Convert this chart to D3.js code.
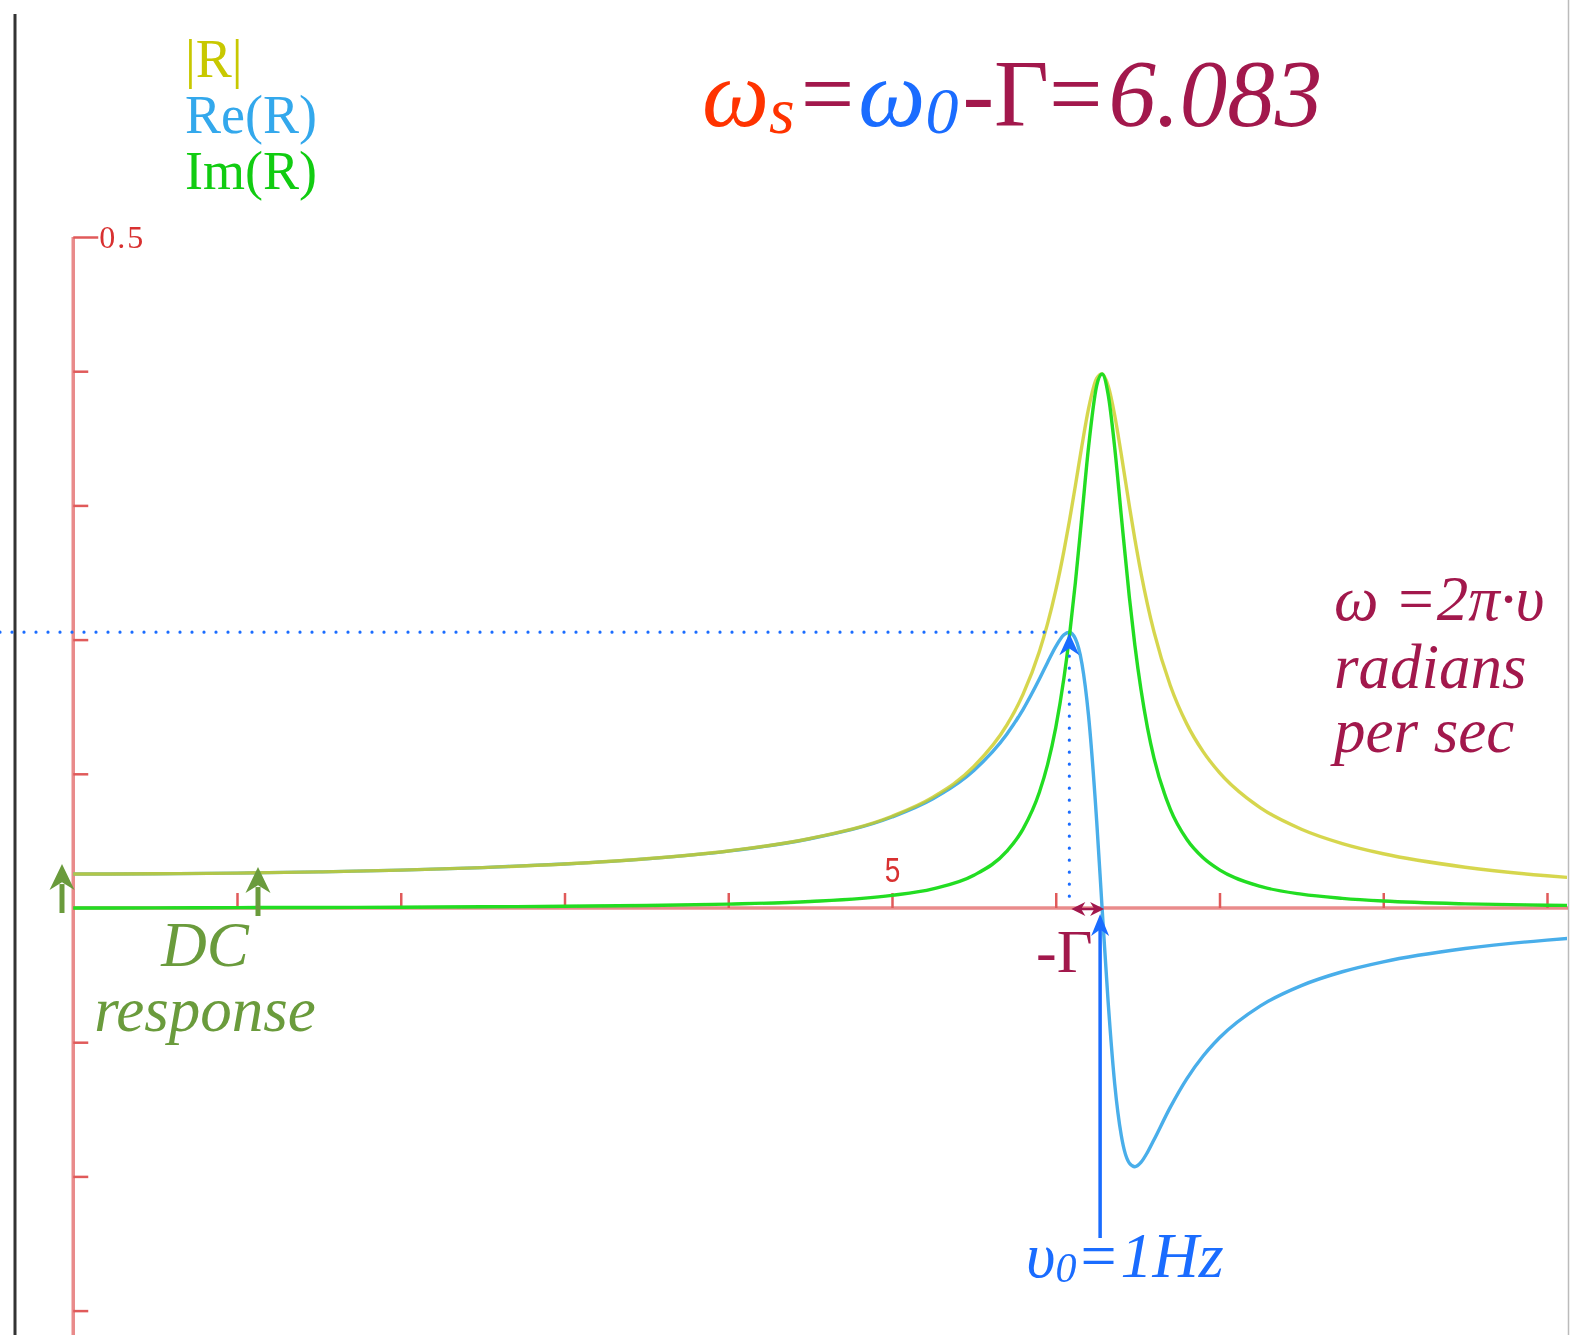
<!DOCTYPE html>
<html>
<head>
<meta charset="utf-8">
<script src="https://cdn.jsdelivr.net/npm/d3@7"></script>
<style>
  html, body { margin: 0; padding: 0; background: #fff; }
  svg { display: block; }
</style>
</head>
<body>
<svg id="chart" width="1572" height="1335"></svg>
<script>
// Angular frequency samples (rad/s)
const omega = [0, 0.5, 1, 1.5, 2, 2.5, 3, 3.5, 4, 4.5,
  5, 5.25, 5.5, 5.7, 5.8, 5.9, 5.95, 6.0, 6.05, 6.083,
  6.12, 6.16, 6.2, 6.25, 6.283, 6.32, 6.36, 6.4, 6.45, 6.483,
  6.52, 6.56, 6.6, 6.7, 6.8, 6.9, 7.0, 7.25, 7.5, 7.75,
  8, 8.5, 9, 9.2];

// Magnitude |R|
const absR = [0.0253, 0.0255, 0.0260, 0.0269, 0.0282, 0.0301, 0.0328, 0.0367, 0.0425, 0.0518,
  0.0684, 0.0826, 0.1054, 0.1360, 0.1592, 0.1912, 0.2119, 0.2366, 0.2661, 0.2881,
  0.3148, 0.3446, 0.3719, 0.3946, 0.3979, 0.3891, 0.3672, 0.3381, 0.2992, 0.2749,
  0.2500, 0.2263, 0.2057, 0.1656, 0.1372, 0.1165, 0.1008, 0.0746, 0.0587, 0.0480,
  0.0404, 0.0304, 0.0240, 0.0221];

// Real part Re(R)
const reR = [0.0253, 0.0255, 0.0260, 0.0269, 0.0282, 0.0301, 0.0328, 0.0366, 0.0424, 0.0516,
  0.0678, 0.0814, 0.1025, 0.1293, 0.1479, 0.1706, 0.1830, 0.1948, 0.2036, 0.2055,
  0.2006, 0.1820, 0.1436, 0.0648, 0.0000, -0.0702, -0.1310, -0.1694, -0.1902, -0.1928,
  -0.1896, -0.1821, -0.1727, -0.1484, -0.1273, -0.1103, -0.0967, -0.0729, -0.0578, -0.0475,
  -0.0401, -0.0302, -0.0239, -0.0220];

// Imaginary part Im(R)
const imR = [0.0000, 0.0001, 0.0003, 0.0004, 0.0006, 0.0009, 0.0013, 0.0019, 0.0029, 0.0048,
  0.0094, 0.0143, 0.0244, 0.0422, 0.0588, 0.0862, 0.1068, 0.1344, 0.1713, 0.2019,
  0.2426, 0.2926, 0.3431, 0.3892, 0.3979, 0.3827, 0.3431, 0.2926, 0.2310, 0.1960,
  0.1631, 0.1344, 0.1117, 0.0735, 0.0512, 0.0374, 0.0284, 0.0161, 0.0103, 0.0072,
  0.0052, 0.0031, 0.0021, 0.0018];

// Axis ticks
const xTicks = [1, 2, 3, 4, 5, 6, 7, 8, 9];
const xTickLabels = ["", "", "", "", "5", "", "", "", ""];
const yTicks = [-0.3, -0.2, -0.1, 0.1, 0.2, 0.3, 0.4, 0.5];
const yTickLabels = ["", "", "", "", "", "", "", "0.5"];

// Key values marked on the plot
const omegaS = 6.083;     // shifted peak of Re(R)
const omega0 = 6.2832;    // resonance, 1 Hz
const reMax = 0.2055;     // Re(R) at omegaS
const dcValue = 0.0253;   // |R| at omega = 0

const SERIF = "'Liberation Serif', 'Times New Roman', Times, 'DejaVu Serif', serif";
const SANS = "'Liberation Sans', Arial, 'DejaVu Sans', sans-serif";

const COL = {
  axis: "#e05a5a",
  abs: "#cccc22",
  re: "#48aeea",
  im: "#22dd22",
  maroon: "#a2184c",
  blue: "#1a6cff",
  red: "#ff3300",
  dc: "#6a9b3c"
};

const svg = d3.select("#chart");
const W = 1572, H = 1335;

const x = d3.scaleLinear().domain([0, 9]).range([73.25, 73.25 + 9 * 163.75]);
const y = d3.scaleLinear().domain([0, 0.5]).range([908, 237]);

const defs = svg.append("defs");
defs.append("clipPath").attr("id", "plotClip")
  .append("rect").attr("x", 0).attr("y", 0).attr("width", 1567).attr("height", H);
defs.append("filter").attr("id", "soft")
  .append("feGaussianBlur").attr("stdDeviation", 0.7);

// page frame lines
svg.append("line").attr("x1", 15).attr("x2", 15).attr("y1", 14).attr("y2", H)
  .attr("stroke", "#333").attr("stroke-width", 3);
svg.append("line").attr("x1", 1568.5).attr("x2", 1568.5).attr("y1", 0).attr("y2", H)
  .attr("stroke", "#bbb").attr("stroke-width", 1.5);

// axes
const axG = svg.append("g").attr("filter", "url(#soft)");
axG.append("line").attr("x1", x(0)).attr("x2", 1568).attr("y1", y(0)).attr("y2", y(0))
  .attr("stroke", COL.axis).attr("stroke-width", 3.5).attr("opacity", 0.7);
axG.append("line").attr("x1", x(0)).attr("x2", x(0)).attr("y1", y(0.5)).attr("y2", H)
  .attr("stroke", COL.axis).attr("stroke-width", 3.5).attr("opacity", 0.7);

const xAxis = d3.axisTop(x).tickValues(xTicks).tickSize(15).tickPadding(11)
  .tickFormat((d, i) => xTickLabels[i]);
const xg = svg.append("g").attr("transform", `translate(0,${y(0)})`).call(xAxis);
xg.select(".domain").remove();
xg.attr("font-family", SANS).attr("font-size", 35);
xg.selectAll(".tick line").attr("stroke", COL.axis).attr("stroke-width", 2.5);
// narrow digits, centred on their ticks
xg.selectAll(".tick text").attr("fill", "#d83030").attr("transform", "scale(0.8,1)");

const yAxis = d3.axisRight(y).tickValues(yTicks).tickSize(15).tickPadding(4)
  .tickFormat((d, i) => yTickLabels[i]);
const yg = svg.append("g").attr("transform", `translate(${x(0)},0)`).call(yAxis);
yg.select(".domain").remove();
yg.attr("font-family", SERIF).attr("font-size", 32);
yg.selectAll(".tick line").attr("stroke", COL.axis).attr("stroke-width", 2.5)
  .attr("x2", d => d === 0.5 ? 25 : 15);
yg.selectAll(".tick text").attr("fill", "#d83030").attr("x", 26).attr("dy", "0.33em")
  .attr("letter-spacing", 2);

// curves
const series = [
  { vals: reR, color: COL.re, op: 1 },
  { vals: absR, color: COL.abs, op: 0.8 },
  { vals: imR, color: COL.im, op: 1 }
];
const curveG = svg.append("g").attr("clip-path", "url(#plotClip)").attr("filter", "url(#soft)");
series.forEach(s => {
  const line = d3.line()
    .x((d, i) => x(omega[i]))
    .y(d => y(d))
    .curve(d3.curveMonotoneX);
  curveG.append("path").datum(s.vals).attr("d", line)
    .attr("fill", "none").attr("stroke", s.color).attr("stroke-width", 3.4)
    .attr("stroke-opacity", s.op).attr("stroke-linejoin", "round");
});

// arrowhead helper: tip at (tx,ty), pointing in direction (dx,dy)
function arrowHead(g, tx, ty, dx, dy, len, half, color) {
  const px = -dy, py = dx;
  const bx = tx - dx * len, by = ty - dy * len;
  const nx = tx - dx * len * 0.7, ny = ty - dy * len * 0.7;
  const p = d3.path();
  p.moveTo(tx, ty);
  p.lineTo(bx + px * half, by + py * half);
  p.lineTo(nx, ny);
  p.lineTo(bx - px * half, by - py * half);
  p.closePath();
  g.append("path").attr("d", p.toString()).attr("fill", color);
}

const ann = svg.append("g");

// dotted guides to the Re(R) maximum
ann.append("line").attr("x1", 0).attr("x2", x(omegaS) - 6)
  .attr("y1", y(reMax)).attr("y2", y(reMax))
  .attr("stroke", COL.blue).attr("stroke-width", 3.2).attr("stroke-linecap", "round")
  .attr("stroke-dasharray", "0 12");
ann.append("line").attr("x1", x(omegaS)).attr("x2", x(omegaS))
  .attr("y1", y(reMax) + 24).attr("y2", y(0) - 4)
  .attr("stroke", COL.blue).attr("stroke-width", 3.2).attr("stroke-linecap", "round")
  .attr("stroke-dasharray", "0 12");
arrowHead(ann, x(omegaS), y(reMax) + 1, 0, -1, 22, 10, COL.blue);

// -Γ double arrow between omegaS and omega0
ann.append("line").attr("x1", x(omegaS) + 6).attr("x2", x(omega0) - 6)
  .attr("y1", y(0) + 1).attr("y2", y(0) + 1)
  .attr("stroke", COL.maroon).attr("stroke-width", 2.5);
arrowHead(ann, x(omegaS) + 2, y(0) + 1, -1, 0, 14, 7, COL.maroon);
arrowHead(ann, x(omega0) + 2, y(0) + 1, 1, 0, 14, 7, COL.maroon);

// vertical marker at omega0
ann.append("line").attr("x1", x(omega0) - 2).attr("x2", x(omega0) - 2)
  .attr("y1", 1238).attr("y2", y(0) + 20)
  .attr("stroke", COL.blue).attr("stroke-width", 3.5);
arrowHead(ann, x(omega0) - 2, y(0) + 6, 0, -1, 22, 9, COL.blue);

// DC response arrows
[{ xp: 62, base: 913, tip: y(dcValue) - 10 }, { xp: 258, base: 916, tip: y(dcValue) - 7 }]
  .forEach(a => {
    ann.append("line").attr("x1", a.xp).attr("x2", a.xp).attr("y1", a.base).attr("y2", a.tip + 20)
      .attr("stroke", COL.dc).attr("stroke-width", 5);
    arrowHead(ann, a.xp, a.tip, 0, -1, 26, 12.5, COL.dc);
  });

// legend
const legend = [
  { t: "|R|", c: "#c8c800", yb: 77 },
  { t: "Re(R)", c: "#33a8ec", yb: 133 },
  { t: "Im(R)", c: "#11cc11", yb: 189 }
];
svg.append("g").attr("font-family", SERIF).attr("font-size", 54)
  .selectAll("text").data(legend).join("text")
  .attr("x", 185).attr("y", d => d.yb).attr("fill", d => d.c)
  .attr("font-family", SERIF).text(d => d.t);

// title formula
const title = svg.append("text").attr("x", 702).attr("y", 126)
  .attr("font-family", SERIF).attr("font-size", 95).attr("font-style", "italic");
title.append("tspan").attr("fill", COL.red).text("ω");
title.append("tspan").attr("fill", COL.red).attr("dy", 7).attr("font-size", 66).text("s");
title.append("tspan").attr("fill", COL.maroon).attr("dy", -7).attr("dx", 6)
  .attr("font-style", "normal").text("=");
title.append("tspan").attr("fill", COL.blue).attr("dx", 4).text("ω");
title.append("tspan").attr("fill", COL.blue).attr("dy", 7).attr("font-size", 66).text("0");
title.append("tspan").attr("fill", COL.maroon).attr("dy", -7).attr("dx", 4)
  .attr("font-style", "normal").text("-Γ=");
title.append("tspan").attr("fill", COL.maroon).attr("dx", 6).text("6.083");

// unit note
const note = svg.append("g").attr("fill", COL.maroon)
  .attr("font-family", SERIF).attr("font-size", 63).attr("font-style", "italic");
[["ω =2π·υ", 620], ["radians", 688], ["per sec", 752]].forEach(([t, yb]) => {
  note.append("text").attr("x", 1334).attr("y", yb).text(t);
});

// -Γ label
svg.append("text").attr("x", 1036).attr("y", 972).attr("fill", COL.maroon)
  .attr("font-family", SERIF).attr("font-size", 62).text("-Γ");

// υ0 = 1Hz label
const nu = svg.append("text").attr("x", 1026).attr("y", 1277).attr("fill", COL.blue)
  .attr("font-family", SERIF).attr("font-size", 64).attr("font-style", "italic");
nu.append("tspan").text("υ");
nu.append("tspan").attr("dy", 5).attr("font-size", 42).text("0");
nu.append("tspan").attr("dy", -5).attr("dx", 4).attr("font-style", "normal").text("=");
nu.append("tspan").attr("dx", 4).text("1Hz");

// DC response label
const dc = svg.append("g").attr("fill", COL.dc)
  .attr("font-family", SERIF).attr("font-size", 63)
  .attr("font-style", "italic").attr("text-anchor", "middle");
dc.append("text").attr("x", 205).attr("y", 966).text("DC");
dc.append("text").attr("x", 205).attr("y", 1031).text("response");
</script>
</body>
</html>
